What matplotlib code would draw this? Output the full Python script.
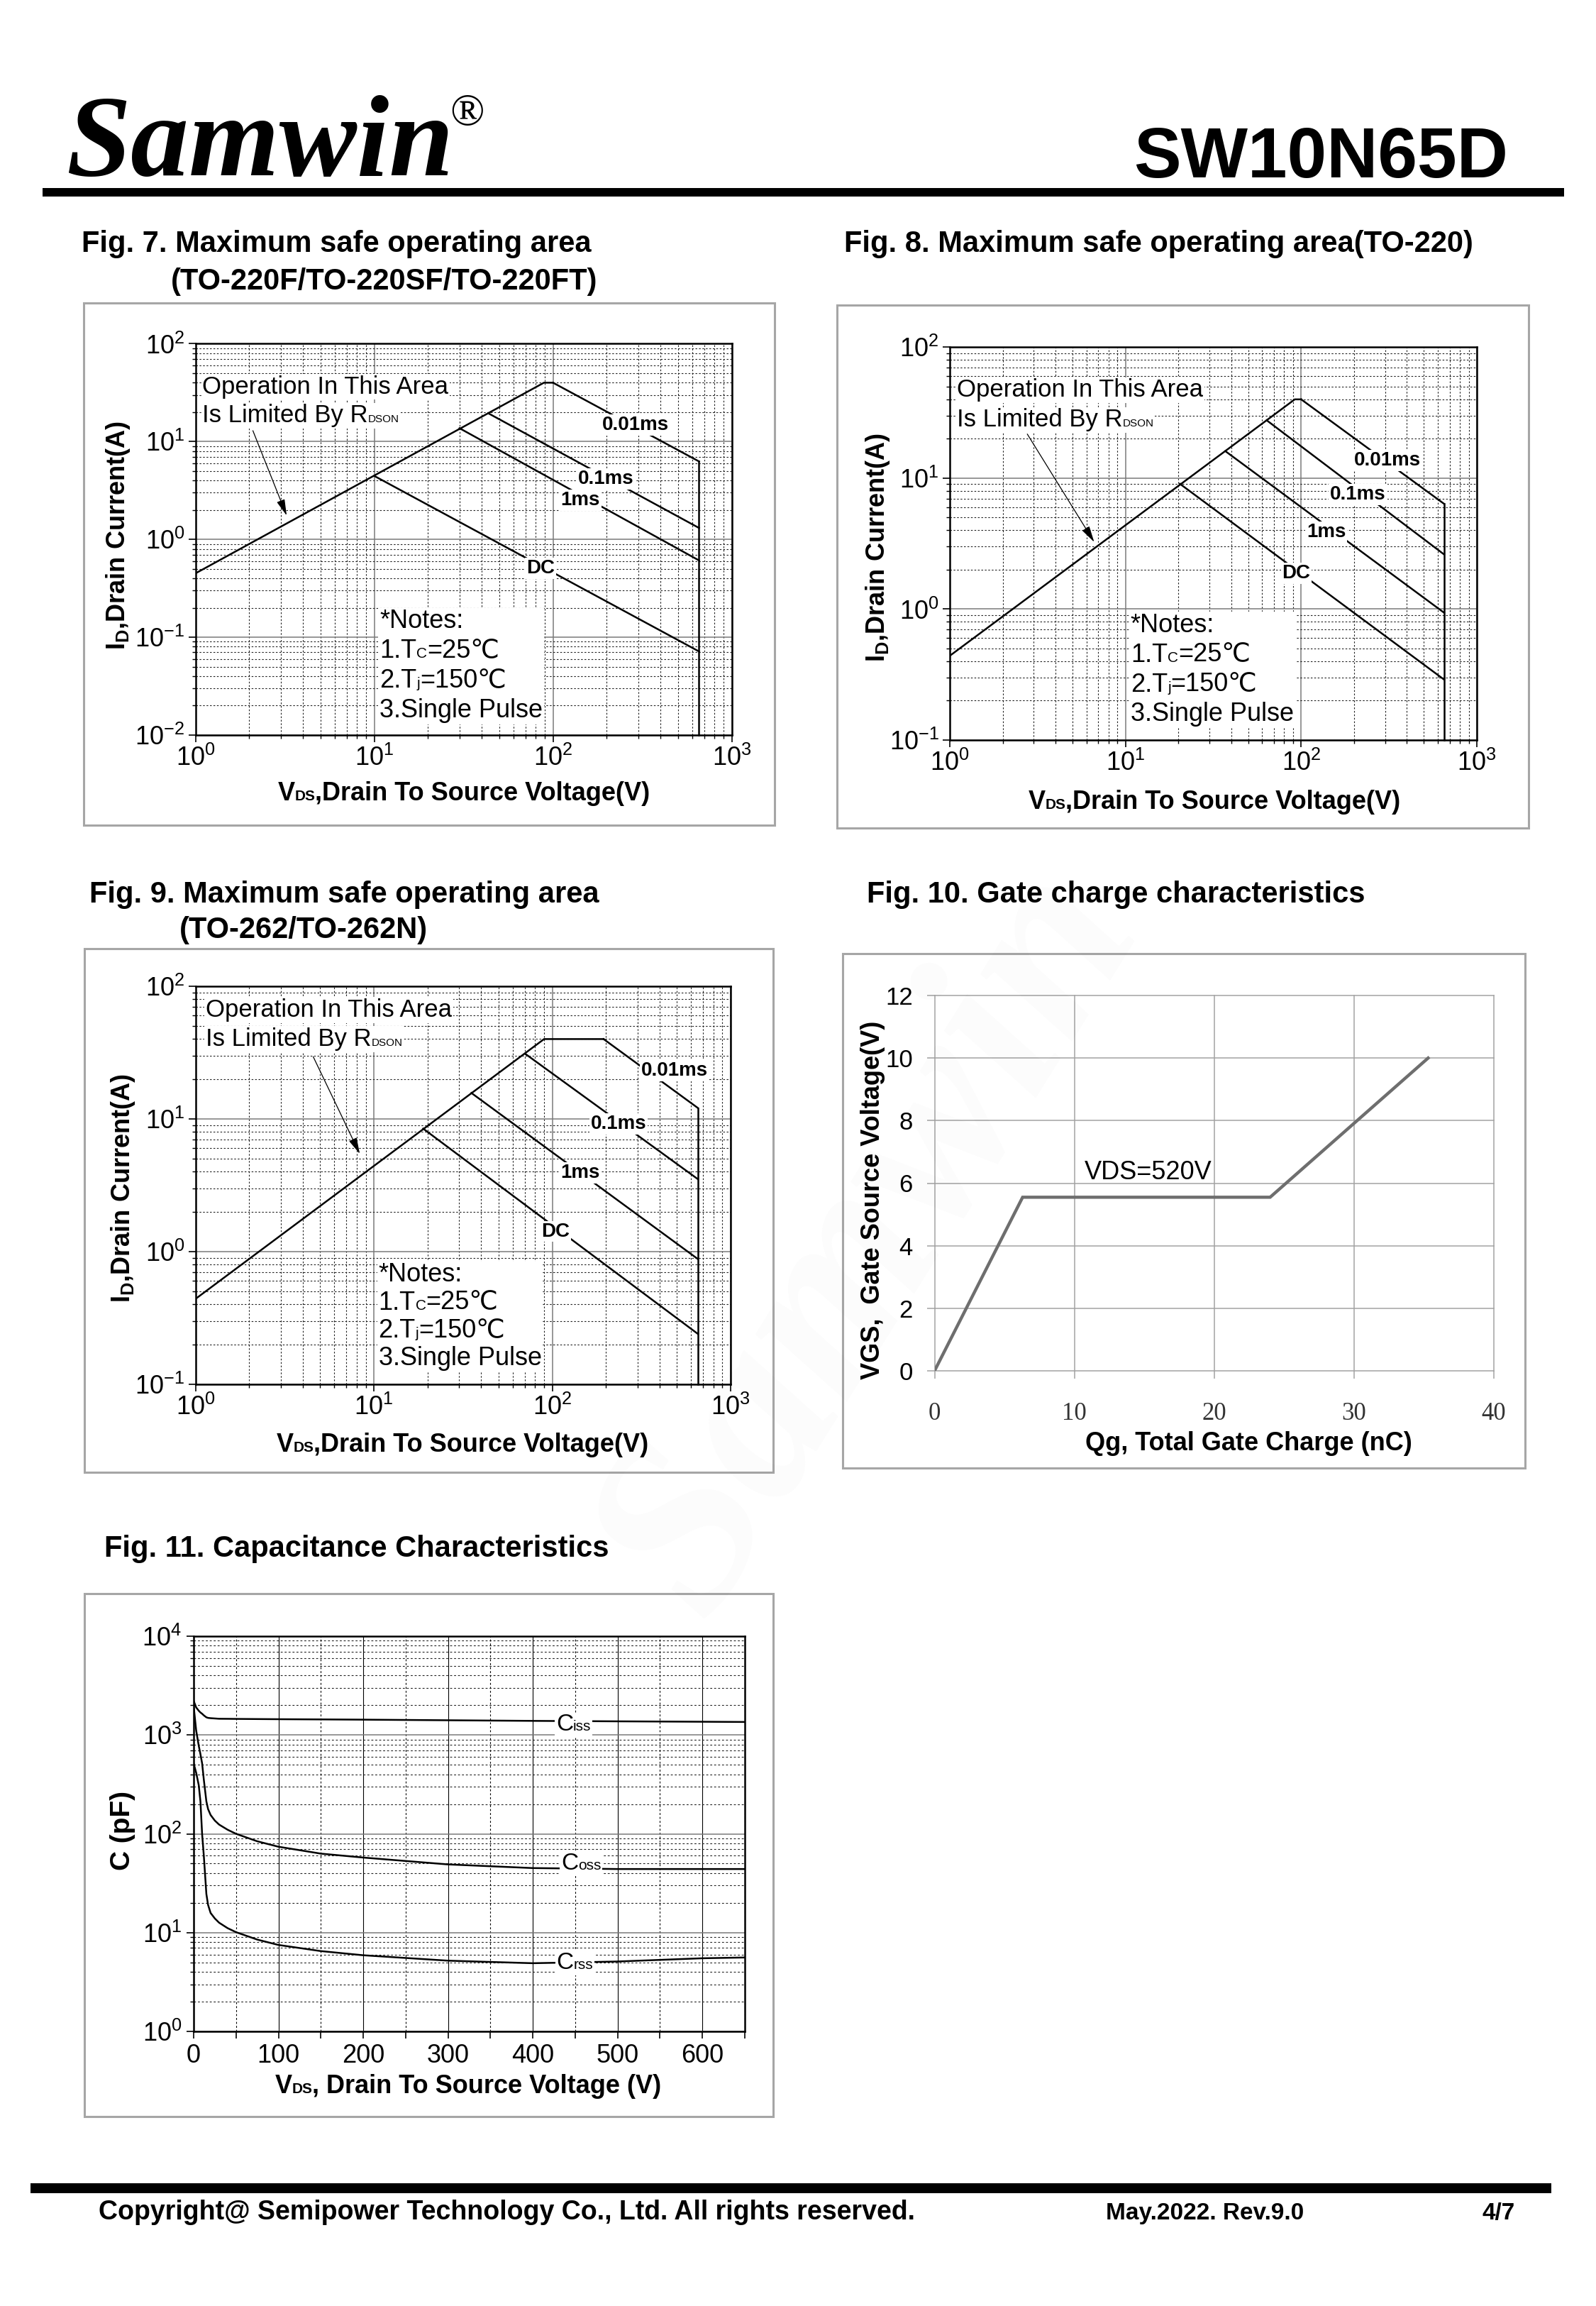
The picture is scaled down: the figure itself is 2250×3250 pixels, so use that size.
import numpy as np
import matplotlib
matplotlib.use('Agg')
import matplotlib.pyplot as plt
from matplotlib.ticker import LogLocator, LogFormatterMathtext, NullFormatter, MultipleLocator
from matplotlib.offsetbox import TextArea, HPacker, VPacker, AnnotationBbox
from matplotlib.patches import Rectangle

plt.rcParams['font.family'] = ['Liberation Sans', 'DejaVu Sans']
plt.rcParams['mathtext.fontset'] = 'custom'
plt.rcParams['mathtext.rm'] = 'Liberation Sans'
plt.rcParams['mathtext.bf'] = 'Liberation Sans:bold'
plt.rcParams['mathtext.it'] = 'Liberation Sans:italic'
plt.rcParams['axes.unicode_minus'] = False

W, H = 2250, 3250

# ---------------- data ----------------
pulse_names = ['0.01ms', '0.1ms', '1ms', 'DC']

# Fig 7  TO-220F / TO-220SF / TO-220FT
f7_v_rds = [1, 89, 100]
f7_i_rds = [0.45, 40, 40]
f7_v_10us = [100, 656]
f7_i_10us = [40, 6.27]
f7_v_100us = [43.4, 656]
f7_i_100us = [19.5, 1.31]
f7_v_1ms = [30, 656]
f7_i_1ms = [13.7, 0.61]
f7_v_dc = [10, 656]
f7_i_dc = [4.46, 0.0716]

# Fig 8  TO-220
f8_v_rds = [1, 92, 100]
f8_i_rds = [0.44, 40, 40]
f8_v_10us = [100, 650]
f8_i_10us = [40, 6.38]
f8_v_100us = [63.6, 650]
f8_i_100us = [27.7, 2.62]
f8_v_1ms = [37, 650]
f8_i_1ms = [16.1, 0.94]
f8_v_dc = [20.4, 650]
f8_i_dc = [9.06, 0.29]

# Fig 9  TO-262 / TO-262N
f9_v_rds = [1, 90, 194]
f9_i_rds = [0.44, 40, 40]
f9_v_10us = [194, 655]
f9_i_10us = [40, 12.1]
f9_v_100us = [70.5, 655]
f9_i_100us = [31, 3.52]
f9_v_1ms = [35.2, 655]
f9_i_1ms = [15.7, 0.88]
f9_v_dc = [18.9, 655]
f9_i_dc = [8.45, 0.24]

# Fig 10  gate charge
qg = [0, 6.3, 24.0, 35.3]
vgs = [0, 5.55, 5.55, 10.0]

# Fig 11  capacitance
vds_c = [0, 3, 6, 8, 10, 12, 15, 17, 20, 25, 30, 40, 50, 75, 100, 150, 200, 300, 400, 500, 600, 650]
ciss = [2220, 1900, 1760, 1690, 1640, 1580, 1510, 1490, 1480, 1470, 1460, 1458, 1455, 1450, 1445, 1438,
        1430, 1410, 1390, 1375, 1362, 1355]
coss = [1960, 1107, 780, 640, 516, 353, 213, 178, 155, 136, 124, 110, 100, 84, 74, 63, 57.5, 49, 45, 44, 44, 44]
crss = [516, 414, 311, 213, 99, 59.8, 24.6, 19.1, 15.8, 13.9, 12.6, 11.1, 10.1, 8.5, 7.5, 6.5, 5.9, 5.2,
        4.9, 5.1, 5.5, 5.6]

fig = plt.figure(figsize=(W / 100, H / 100), dpi=100)


def F(x, y):
    # page pixel (top-left origin) -> figure fraction
    return (x / W, 1 - y / H)


def axes_px(l, t, r, b):
    return fig.add_axes([l / W, 1 - b / H, (r - l) / W, (b - t) / H])


def frame(l, t, r, b):
    fig.add_artist(Rectangle((l / W, 1 - b / H), (r - l) / W, (b - t) / H, transform=fig.transFigure,
                             fill=False, ec='#a6a6a6', lw=2.2))


def bar(l, t, r, b):
    fig.add_artist(Rectangle((l / W, 1 - b / H), (r - l) / W, (b - t) / H, transform=fig.transFigure,
                             fc='black', ec='none'))


def rich(parent, lines, xy, coords='axes fraction', align=(0, 0.5), weight='normal', sep=3, bg=True):
    rows = []
    for parts in lines:
        kids = [TextArea(t, textprops=dict(fontsize=s, fontweight=weight, color='k')) for t, s in parts]
        rows.append(HPacker(children=kids, align='baseline', pad=0, sep=0))
    box = rows[0] if len(rows) == 1 else VPacker(children=rows, align='left', pad=0, sep=sep)
    ab = AnnotationBbox(box, xy, xycoords=coords, box_alignment=align, frameon=bg, pad=0.12,
                        bboxprops=dict(fc='white', ec='none'), zorder=6)
    parent.add_artist(ab)


def title(x, y, s):
    fig.text(x / W, 1 - y / H, s, fontsize=30, fontweight='bold', ha='left', va='baseline')


def log_axis(a):
    a.set_major_locator(LogLocator(base=10, numticks=10))
    a.set_minor_locator(LogLocator(base=10, subs=np.arange(2, 10), numticks=20))
    a.set_major_formatter(LogFormatterMathtext())
    a.set_minor_formatter(NullFormatter())


def soa(ax, ymin, curves, lab_pos, vmax, rds, txt_y, arrow, notes_top, notes_sep):
    ax.set_xscale('log')
    ax.set_yscale('log')
    ax.set_xlim(1, 1000)
    ax.set_ylim(ymin, 100)
    log_axis(ax.xaxis)
    log_axis(ax.yaxis)
    ax.grid(which='major', color='#7a7a7a', lw=1.1, ls='-')
    ax.grid(which='minor', color='#222222', lw=0.8, ls=(0, (2.2, 2.2)))
    ax.set_axisbelow(True)
    for s in ax.spines.values():
        s.set_linewidth(1.8)
    ax.tick_params(which='major', direction='out', length=7, width=1.2, labelsize=26, pad=4)
    ax.tick_params(which='minor', direction='out', length=3.5, width=1.0)

    ax.plot(rds[0], rds[1], color='k', lw=1.8)
    for (v, i) in curves:
        ax.plot(v, i, color='k', lw=1.8)
    ax.plot([vmax, vmax], [curves[0][1][1], ymin], color='k', lw=1.8, clip_on=False)
    for name, (lv, li) in zip(pulse_names, lab_pos):
        ax.text(lv, li, name, fontsize=20, fontweight='bold', ha='center', va='center',
                bbox=dict(fc='white', ec='none', pad=1.5), zorder=5)

    rich(ax, [[('Operation In This Area', 25)]], (txt_y[0], txt_y[1]))
    rich(ax, [[('Is Limited By R', 25), ('DSON', 11)]], (txt_y[0], txt_y[2]))
    ax.annotate('', xy=arrow[1], xytext=arrow[0], xycoords='axes fraction',
                arrowprops=dict(arrowstyle='-|>,head_length=0.7,head_width=0.18', color='k', lw=0.9,
                                mutation_scale=20, shrinkA=0, shrinkB=0), zorder=6)
    rich(ax, [[('*Notes:', 26)],
              [('1.T', 26), ('C', 15), ('=25℃', 26)],
              [('2.T', 26), ('j', 15), ('=150℃', 26)],
              [('3.Single Pulse', 26)]],
         notes_top, align=(0, 1), sep=notes_sep)


def soa_labels(xc, yc, ylc, ylyc):
    rich(fig, [[('V', 26), ('DS', 15), (',Drain To Source Voltage(V)', 26)]], F(xc, yc),
         coords='figure fraction', align=(0.5, 0.5), weight='bold', bg=False)
    fig.text(*F(ylc, ylyc), r'$\mathbf{I_{D}}$,Drain Current(A)', fontsize=26, fontweight='bold',
             rotation=90, ha='center', va='center')


# ---------------- header / footer ----------------
fig.text(*F(93, 247), 'Samwin', family='Liberation Serif', fontsize=118, fontweight='bold',
         style='italic', ha='left', va='baseline')
fig.text(*F(634, 132), '®', family='Liberation Serif', fontsize=46, ha='left', va='top')
fig.text(*F(2126, 250), 'SW10N65D', fontsize=72, fontweight='bold', ha='right', va='baseline')
bar(60, 265, 2205, 277)

bar(43, 3077, 2187, 3091)
fig.text(*F(139, 3128), 'Copyright@ Semipower Technology Co., Ltd. All rights reserved.', fontsize=27,
         fontweight='bold', ha='left', va='baseline')
fig.text(*F(1559, 3128), 'May.2022. Rev.9.0', fontsize=24, fontweight='bold', ha='left', va='baseline')
fig.text(*F(2090, 3128), '4/7', fontsize=24, fontweight='bold', ha='left', va='baseline')

# ---------------- Fig 7 ----------------
title(115, 355, 'Fig. 7. Maximum safe operating area')
title(241, 408, '(TO-220F/TO-220SF/TO-220FT)')
frame(118, 427, 1092, 1163)
ax7 = axes_px(275.6, 484.5, 1031.6, 1036)
soa(ax7, 0.01,
    [(f7_v_10us, f7_i_10us), (f7_v_100us, f7_i_100us), (f7_v_1ms, f7_i_1ms), (f7_v_dc, f7_i_dc)],
    [(289, 14.7), (198, 4.18), (142, 2.51), (85.4, 0.508)], 656, (f7_v_rds, f7_i_rds),
    (0.013, 0.890, 0.816), ((0.107, 0.778), (0.170, 0.561)), (0.343, 0.322), 5)
soa_labels(654, 1119, 166, 755)

# ---------------- Fig 8 ----------------
title(1190, 355, 'Fig. 8. Maximum safe operating area(TO-220)')
frame(1180, 430, 2155, 1167)
ax8 = axes_px(1339, 489.4, 2082, 1043)
soa(ax8, 0.1,
    [(f8_v_10us, f8_i_10us), (f8_v_100us, f8_i_100us), (f8_v_1ms, f8_i_1ms), (f8_v_dc, f8_i_dc)],
    [(311, 13.7), (211, 7.46), (139, 3.88), (93.8, 1.88)], 650, (f8_v_rds, f8_i_rds),
    (0.0135, 0.891, 0.815), ((0.147, 0.779), (0.274, 0.504)), (0.343, 0.324), 5)
soa_labels(1712, 1131, 1238, 772)

# ---------------- Fig 9 ----------------
title(126, 1272, 'Fig. 9. Maximum safe operating area')
title(253, 1322, '(TO-262/TO-262N)')
frame(119, 1337, 1090, 2075)
ax9 = axes_px(275.6, 1390, 1030, 1951)
soa(ax9, 0.1,
    [(f9_v_10us, f9_i_10us), (f9_v_100us, f9_i_100us), (f9_v_1ms, f9_i_1ms), (f9_v_dc, f9_i_dc)],
    [(484, 23.1), (235, 9.16), (144, 3.94), (104.5, 1.42)], 655, (f9_v_rds, f9_i_rds),
    (0.019, 0.940, 0.867), ((0.220, 0.823), (0.307, 0.579)), (0.342, 0.306), 3)
soa_labels(652, 2037, 173, 1675)

# ---------------- Fig 10 ----------------
title(1222, 1272, 'Fig. 10. Gate charge characteristics')
frame(1188, 1344, 2150, 2069)
ax10 = axes_px(1317.5, 1403, 2106, 1932)
ax10.plot(qg, vgs, color='#6e6e6e', lw=3.2, solid_joinstyle='miter', zorder=3)
ax10.set_xlim(0, 40)
ax10.set_ylim(0, 12)
ax10.set_xticks(range(0, 41, 10))
ax10.set_yticks(range(0, 13, 2))
ax10.grid(color='#a3a3a3', lw=1.1)
ax10.set_axisbelow(True)
for s in ax10.spines.values():
    s.set_visible(False)
ax10.tick_params(direction='out', length=8, width=1.1, color='#a3a3a3', labelsize=25)
ax10.tick_params(axis='x', pad=24, labelcolor='#333333')
ax10.tick_params(axis='y', pad=14)
for lab in ax10.get_xticklabels():
    lab.set_family('Liberation Serif')
for gl in ax10.get_xgridlines() + ax10.get_ygridlines():
    gl.set_clip_on(False)
ax10.text(10.7, 6.35, 'VDS=520V', fontsize=26, ha='left', va='center')
fig.text(*F(1760, 2035), 'Qg, Total Gate Charge (nC)', fontsize=26, fontweight='bold', ha='center', va='center')
fig.text(*F(1231, 1691), 'VGS,  Gate Source Voltage(V)', fontsize=26, fontweight='bold', rotation=90,
         ha='center', va='center')

# ---------------- Fig 11 ----------------
title(147, 2194, 'Fig. 11. Capacitance Characteristics')
frame(119, 2246, 1090, 2983)
ax11 = axes_px(273, 2306, 1050, 2863)
ax11.set_yscale('log')
ax11.set_xlim(0, 650)
ax11.set_ylim(1, 1e4)
ax11.xaxis.set_major_locator(MultipleLocator(100))
ax11.xaxis.set_minor_locator(MultipleLocator(50))
log_axis(ax11.yaxis)
ax11.grid(which='major', axis='x', color='k', lw=0.8)
ax11.grid(which='minor', axis='x', color='k', lw=0.8, ls=(0, (2.5, 2.5)))
ax11.grid(which='major', axis='y', color='#7a7a7a', lw=1.1)
ax11.grid(which='minor', axis='y', color='#222222', lw=0.8, ls=(0, (2.5, 2.5)))
ax11.set_axisbelow(True)
for s in ax11.spines.values():
    s.set_linewidth(1.8)
ax11.tick_params(which='major', direction='out', length=7, width=1.2, labelsize=26, pad=5)
ax11.tick_params(axis='x', which='minor', direction='out', length=7, width=1.2)
ax11.tick_params(axis='y', which='minor', direction='out', length=3.5, width=1.0)
ax11.plot(vds_c, ciss, color='k', lw=1.8)
ax11.plot(vds_c, coss, color='k', lw=1.8)
ax11.plot(vds_c, crss, color='k', lw=1.8)
rich(ax11, [[('C', 24), ('iss', 15)]], (448, 1270), coords='data', align=(0.5, 0.5))
rich(ax11, [[('C', 24), ('oss', 15)]], (457, 50.2), coords='data', align=(0.5, 0.5))
rich(ax11, [[('C', 24), ('rss', 15)]], (449.6, 4.93), coords='data', align=(0.5, 0.5))
rich(fig, [[('V', 26), ('DS', 15), (', Drain To Source Voltage (V)', 26)]], F(660, 2941),
     coords='figure fraction', align=(0.5, 0.5), weight='bold', bg=False)
fig.text(*F(173, 2580), 'C (pF)', fontsize=28, fontweight='bold', rotation=90, ha='center', va='center')

# faint watermark
fig.text(*F(1230, 1750), 'Samwin', family='Liberation Serif', fontsize=250, fontweight='bold',
         style='italic', rotation=58, color='black', alpha=0.015, ha='center', va='center', zorder=20)

fig.savefig('out.png', dpi=100)
